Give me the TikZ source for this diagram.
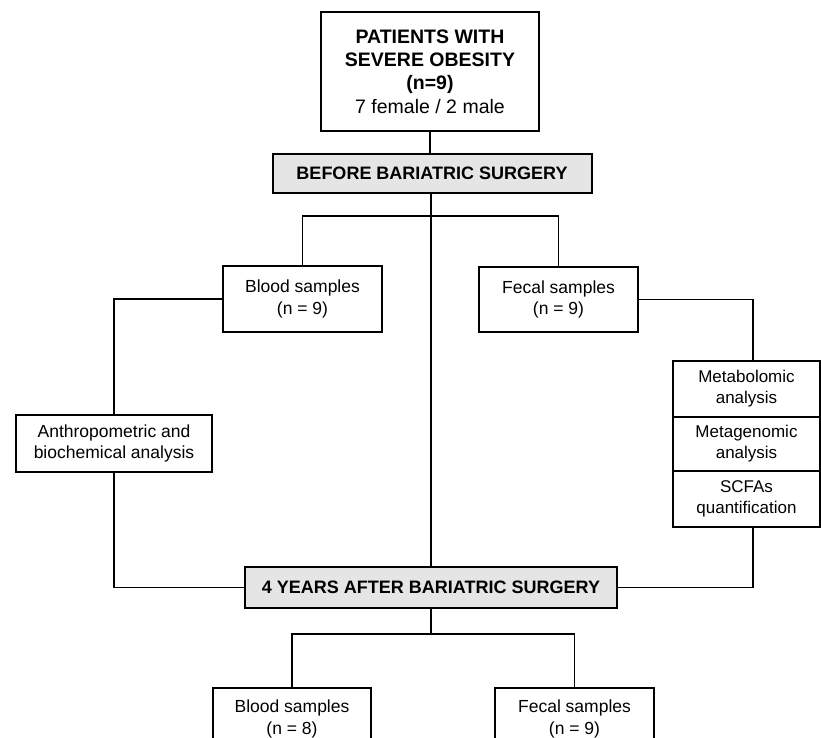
\documentclass[tikz,border=0pt]{standalone}
\usepackage{fontspec}
\setmainfont{Liberation Sans}
\begin{document}
\begin{tikzpicture}[x=1pt,y=-1pt,
  box/.style={draw=black, line width=1.3pt, rectangle, inner sep=0pt, align=center,
    font=\fontsize{17.5}{21.5}\selectfont},
  topbox/.style={box, line width=1.5pt, font=\fontsize{19.5}{23.4}\selectfont},
  bar/.style={box, line width=2pt, fill=black!10, font=\fontsize{18}{21}\selectfont\bfseries},
  cell/.style={box, font=\fontsize{17}{21}\selectfont},
  conn/.style={draw=black, line width=1.1pt}]
\fill[white] (0,0) rectangle (821,738);
\useasboundingbox (0,0) rectangle (821,738);
\clip (0,0) rectangle (821,738);

\node[topbox, minimum width=218pt, minimum height=119pt] (top) at (430,71.5)
  {\textbf{PATIENTS WITH}\\\textbf{SEVERE OBESITY}\\\textbf{(n=9)}\\7 female / 2 male};
\node[bar, minimum width=319pt, minimum height=39pt] (before) at (432,173.5)
  {BEFORE BARIATRIC SURGERY};
\node[box, minimum width=159pt, minimum height=66pt] (blood1) at (302.5,299)
  {Blood samples\\(n = 9)};
\node[box, minimum width=159pt, minimum height=65pt] (fecal1) at (558.5,299.5)
  {Fecal samples\\(n = 9)};
\node[box, minimum width=196pt, minimum height=57pt] (anthro) at (114,443.5)
  {Anthropometric and\\biochemical analysis};
\node[cell, minimum width=147pt, minimum height=56pt] (s1) at (746.5,389)
  {Metabolomic\\analysis};
\node[cell, minimum width=147pt, minimum height=54pt] (s2) at (746.5,444)
  {Metagenomic\\analysis};
\node[cell, minimum width=147pt, minimum height=56pt] (s3) at (746.5,499)
  {SCFAs\\quantification};
\node[bar, minimum width=372pt, minimum height=41pt] (after) at (431,587.5)
  {4 YEARS AFTER BARIATRIC SURGERY};
\node[box, minimum width=158pt, minimum height=62pt] (blood2) at (292,719)
  {Blood samples\\(n = 8)};
\node[box, minimum width=159pt, minimum height=62pt] (fecal2) at (574.5,719)
  {Fecal samples\\(n = 9)};

\coordinate (j1) at (431,216);
\coordinate (j2) at (431,634);
\coordinate (rx) at (753,0);
\coordinate (cx) at (431,0);

\draw[conn] (top.south) -- (top.south |- before.north);
\draw[conn] (before.south -| cx) -- (after.north -| cx);
\draw[conn] (blood1.north) |- (j1) -| (fecal1.north);
\draw[conn] (blood1.west) -| (anthro.north);
\draw[conn] (anthro.south) |- (after.west);
\draw[conn] (fecal1.east) -| (s1.north -| rx);
\draw[conn] (s3.south -| rx) |- (after.east);
\draw[conn] (after.south -| cx) -- (j2);
\draw[conn] (blood2.north) |- (j2) -| (fecal2.north);
\end{tikzpicture}
\end{document}
